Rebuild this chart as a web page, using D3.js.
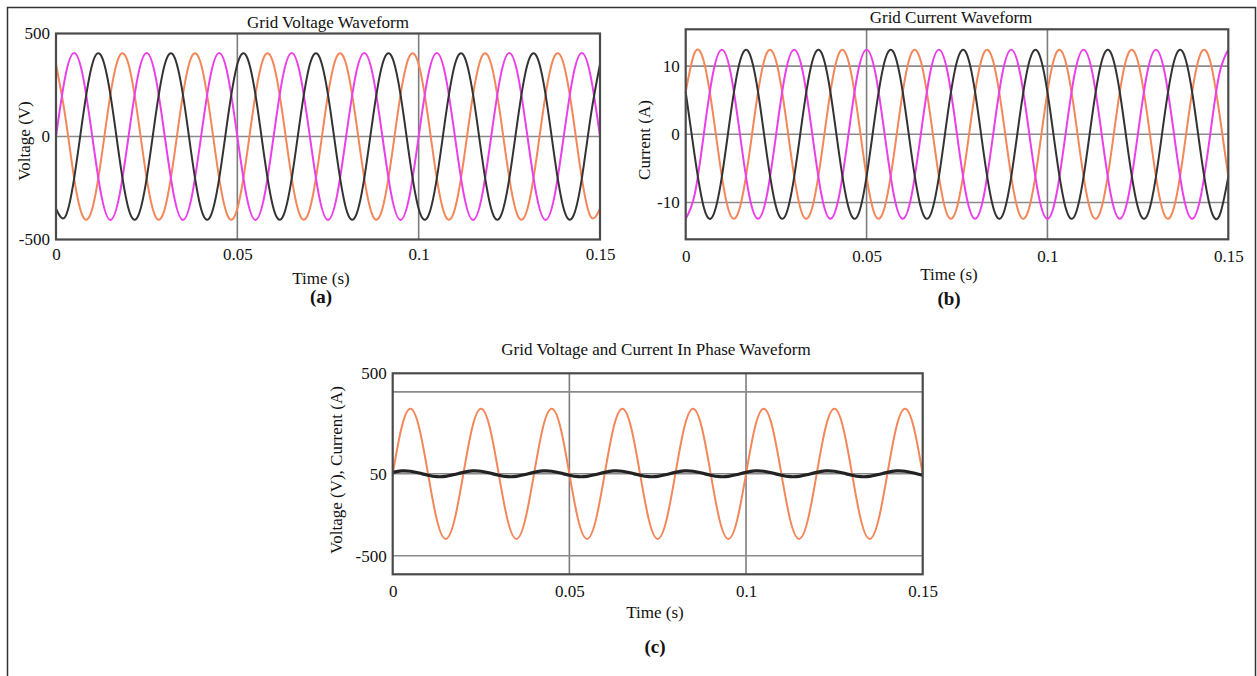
<!DOCTYPE html>
<html>
<head>
<meta charset="utf-8">
<script src="https://cdn.jsdelivr.net/npm/d3@7/dist/d3.min.js"></script>
<style>
body { margin: 0; background: #fff; }
text { font-family: "Liberation Serif", "Times New Roman", serif; fill: #111; }
</style>
</head>
<body>
<svg id="fig" width="1257" height="676"></svg>
<script>
// sample times (s), read every 2.5 ms
var time_s = [
	0, 0.0025, 0.005, 0.0075, 0.01, 0.0125, 0.015, 0.0175,
	0.02, 0.0225, 0.025, 0.0275, 0.03, 0.0325, 0.035, 0.0375,
	0.04, 0.0425, 0.045, 0.0475, 0.05, 0.0525, 0.055, 0.0575,
	0.06, 0.0625, 0.065, 0.0675, 0.07, 0.0725, 0.075, 0.0775,
	0.08, 0.0825, 0.085, 0.0875, 0.09, 0.0925, 0.095, 0.0975,
	0.1, 0.1025, 0.105, 0.1075, 0.11, 0.1125, 0.115, 0.1175,
	0.12, 0.1225, 0.125, 0.1275, 0.13, 0.1325, 0.135, 0.1375,
	0.14, 0.1425, 0.145, 0.1475, 0.15
]

// (a) grid voltage, V
var volt_pink = [
	0, 286, 405, 286, 0, -286, -405, -286,
	0, 286, 405, 286, 0, -286, -405, -286,
	0, 286, 405, 286, 0, -286, -405, -286,
	0, 286, 405, 286, 0, -286, -405, -286,
	0, 286, 405, 286, 0, -286, -405, -286,
	0, 286, 405, 286, 0, -286, -405, -286,
	0, 286, 405, 286, 0, -286, -405, -286,
	0, 286, 405, 286, 0
]
var volt_black = [
	-351, -391, -203, 105, 351, 391, 203, -105,
	-351, -391, -203, 105, 351, 391, 203, -105,
	-351, -391, -203, 105, 351, 391, 203, -105,
	-351, -391, -203, 105, 351, 391, 203, -105,
	-351, -391, -203, 105, 351, 391, 203, -105,
	-351, -391, -203, 105, 351, 391, 203, -105,
	-351, -391, -203, 105, 351, 391, 203, -105,
	-351, -391, -203, 105, 351
]
var volt_orange = [
	351, 105, -203, -391, -351, -105, 203, 391,
	351, 105, -203, -391, -351, -105, 203, 391,
	351, 105, -203, -391, -351, -105, 203, 391,
	351, 105, -203, -391, -351, -105, 203, 391,
	351, 105, -203, -391, -351, -105, 203, 391,
	351, 105, -203, -391, -351, -105, 203, 391,
	351, 105, -203, -391, -351, -105, 203, 391,
	351, 105, -203, -391, -351
]

// (b) grid current, A
var curr_orange = [
	6.2, 12.0, 10.7, 3.2, -6.2, -12.0, -10.7, -3.2,
	6.2, 12.0, 10.7, 3.2, -6.2, -12.0, -10.7, -3.2,
	6.2, 12.0, 10.7, 3.2, -6.2, -12.0, -10.7, -3.2,
	6.2, 12.0, 10.7, 3.2, -6.2, -12.0, -10.7, -3.2,
	6.2, 12.0, 10.7, 3.2, -6.2, -12.0, -10.7, -3.2,
	6.2, 12.0, 10.7, 3.2, -6.2, -12.0, -10.7, -3.2,
	6.2, 12.0, 10.7, 3.2, -6.2, -12.0, -10.7, -3.2,
	6.2, 12.0, 10.7, 3.2, -6.2
]
var curr_pink = [
	-12.4, -8.8, 0, 8.8, 12.4, 8.8, 0, -8.8,
	-12.4, -8.8, 0, 8.8, 12.4, 8.8, 0, -8.8,
	-12.4, -8.8, 0, 8.8, 12.4, 8.8, 0, -8.8,
	-12.4, -8.8, 0, 8.8, 12.4, 8.8, 0, -8.8,
	-12.4, -8.8, 0, 8.8, 12.4, 8.8, 0, -8.8,
	-12.4, -8.8, 0, 8.8, 12.4, 8.8, 0, -8.8,
	-12.4, -8.8, 0, 8.8, 12.4, 8.8, 0, -8.8,
	-12.4, -8.8, 0, 8.8, 12.4
]
var curr_black = [
	6.2, -3.2, -10.7, -12.0, -6.2, 3.2, 10.7, 12.0,
	6.2, -3.2, -10.7, -12.0, -6.2, 3.2, 10.7, 12.0,
	6.2, -3.2, -10.7, -12.0, -6.2, 3.2, 10.7, 12.0,
	6.2, -3.2, -10.7, -12.0, -6.2, 3.2, 10.7, 12.0,
	6.2, -3.2, -10.7, -12.0, -6.2, 3.2, 10.7, 12.0,
	6.2, -3.2, -10.7, -12.0, -6.2, 3.2, 10.7, 12.0,
	6.2, -3.2, -10.7, -12.0, -6.2, 3.2, 10.7, 12.0,
	6.2, -3.2, -10.7, -12.0, -6.2
]

// (c) voltage and current in phase
var phase_volt = [
	0, 281, 397, 281, 0, -281, -397, -281,
	0, 281, 397, 281, 0, -281, -397, -281,
	0, 281, 397, 281, 0, -281, -397, -281,
	0, 281, 397, 281, 0, -281, -397, -281,
	0, 281, 397, 281, 0, -281, -397, -281,
	0, 281, 397, 281, 0, -281, -397, -281,
	0, 281, 397, 281, 0, -281, -397, -281,
	0, 281, 397, 281, 0
]
var phase_curr = [
	9, 17.4, 15.6, 4.7, -9, -17.4, -15.6, -4.7,
	9, 17.4, 15.6, 4.7, -9, -17.4, -15.6, -4.7,
	9, 17.4, 15.6, 4.7, -9, -17.4, -15.6, -4.7,
	9, 17.4, 15.6, 4.7, -9, -17.4, -15.6, -4.7,
	9, 17.4, 15.6, 4.7, -9, -17.4, -15.6, -4.7,
	9, 17.4, 15.6, 4.7, -9, -17.4, -15.6, -4.7,
	9, 17.4, 15.6, 4.7, -9, -17.4, -15.6, -4.7,
	9, 17.4, 15.6, 4.7, -9
]

var x_ticks = [0, 0.05, 0.1, 0.15]
var x_grid = [0.05, 0.1]
var ticks_a = [-500, 0, 500], grid_a = [0]
var ticks_b = [-10, 0, 10], grid_b = [-10, 0, 10]
var ticks_c = [-500, 0, 613], tick_labels_c = ["-500", "50", "500"], grid_c = [-500, 0, 500]

var svg = d3.select("#fig")

// outer frame of the figure
svg.append("path")
   .attr("d", "M7.5,676 V7.5 H1255.5 V676")
   .attr("fill", "none").attr("stroke", "#333").attr("stroke-width", 1.5)

function draw_panel (p) {
	var x_scale = d3.scaleLinear().domain([0, 0.15]).range([p.x0, p.x1]),
	    y_scale = d3.scaleLinear().domain(p.y_domain).range([p.y1, p.y0]),
	    g = svg.append("g")

	g.selectAll(".vgrid").data(x_grid).enter().append("line")
	 .attr("x1", d=>x_scale(d)).attr("x2", d=>x_scale(d))
	 .attr("y1", p.y0).attr("y2", p.y1)
	 .attr("stroke", "#7d7d7d").attr("stroke-width", 1.6)
	g.selectAll(".hgrid").data(p.grid).enter().append("line")
	 .attr("x1", p.x0).attr("x2", p.x1)
	 .attr("y1", d=>y_scale(d)).attr("y2", d=>y_scale(d))
	 .attr("stroke", "#8a8a8a").attr("stroke-width", 1.6)

	var line = d3.line()
	             .x((d, i)=>x_scale(time_s[i]))
	             .y(d=>y_scale(d))
	             .curve(d3.curveNatural)
	p.series.forEach(s=>{
		g.append("path")
		 .attr("d", line(s.values))
		 .attr("fill", "none")
		 .attr("stroke", s.color)
		 .attr("stroke-width", s.width)
		 .attr("stroke-linejoin", "round")
	})

	g.append("rect")
	 .attr("x", p.x0).attr("y", p.y0)
	 .attr("width", p.x1 - p.x0).attr("height", p.y1 - p.y0)
	 .attr("fill", "none").attr("stroke", "#4a4a4a").attr("stroke-width", 2.2)

	var x_axis = g.append("g")
	              .attr("transform", "translate(0," + p.y1 + ")")
	              .call(d3.axisBottom(x_scale).tickValues(x_ticks).tickSize(0).tickPadding(p.x_pad).tickFormat(d3.format("")))
	var y_axis = g.append("g")
	              .attr("transform", "translate(" + p.x0 + ",0)")
	              .call(d3.axisLeft(y_scale).tickValues(p.ticks).tickSize(0).tickPadding(6)
	                      .tickFormat((d, i)=>p.tick_labels ? p.tick_labels[i] : d))
	;[x_axis, y_axis].forEach(a=>{
		a.select(".domain").remove()
		a.selectAll("text").attr("font-size", 17).attr("fill", "#111")
		 .attr("font-family", "'Liberation Serif', 'Times New Roman', serif")
	})

	g.append("text").attr("x", p.title_x).attr("y", p.title_y)
	 .attr("text-anchor", "middle").attr("font-size", 17).text(p.title)
	g.append("text").attr("x", p.xlabel_x).attr("y", p.xlabel_y)
	 .attr("text-anchor", "middle").attr("font-size", 17).text("Time (s)")
	g.append("text").attr("x", p.xlabel_x).attr("y", p.tag_y)
	 .attr("text-anchor", "middle").attr("font-size", 19).attr("font-weight", "bold").text(p.tag)
	g.append("text")
	 .attr("transform", "translate(" + p.ylabel_x + "," + p.ylabel_y + ") rotate(-90)")
	 .attr("text-anchor", "middle").attr("font-size", 17).text(p.ylabel)
}

draw_panel({
	x0: 56, x1: 600, y0: 33.5, y1: 239.5, y_domain: [-500, 500],
	ticks: ticks_a, grid: grid_a, x_pad: 8.5,
	title: "Grid Voltage Waveform", title_x: 328, title_y: 28,
	xlabel_x: 321, xlabel_y: 284, tag: "(a)", tag_y: 303,
	ylabel: "Voltage (V)", ylabel_x: 30, ylabel_y: 141,
	series: [
		{values: volt_orange, color: "#f3875a", width: 2},
		{values: volt_pink, color: "#ea40ea", width: 2},
		{values: volt_black, color: "#333333", width: 2}
	]
})

draw_panel({
	x0: 685.7, x1: 1228.3, y0: 29.3, y1: 239.3, y_domain: [-15.4, 15.4],
	ticks: ticks_b, grid: grid_b, x_pad: 10.5,
	title: "Grid Current Waveform", title_x: 951, title_y: 23,
	xlabel_x: 949, xlabel_y: 280, tag: "(b)", tag_y: 305,
	ylabel: "Current (A)", ylabel_x: 650, ylabel_y: 140,
	series: [
		{values: curr_orange, color: "#f3875a", width: 2},
		{values: curr_pink, color: "#ea40ea", width: 2},
		{values: curr_black, color: "#333333", width: 2}
	]
})

draw_panel({
	x0: 392.7, x1: 922.7, y0: 373.3, y1: 574.3, y_domain: [-613, 613],
	ticks: ticks_c, tick_labels: tick_labels_c, grid: grid_c, x_pad: 10.5,
	title: "Grid Voltage and Current In Phase Waveform", title_x: 656, title_y: 355,
	xlabel_x: 655, xlabel_y: 618, tag: "(c)", tag_y: 653,
	ylabel: "Voltage (V), Current (A)", ylabel_x: 342, ylabel_y: 470,
	series: [
		{values: phase_volt, color: "#f3875a", width: 2},
		{values: phase_curr, color: "#222222", width: 3.2}
	]
})
</script>
</body>
</html>
